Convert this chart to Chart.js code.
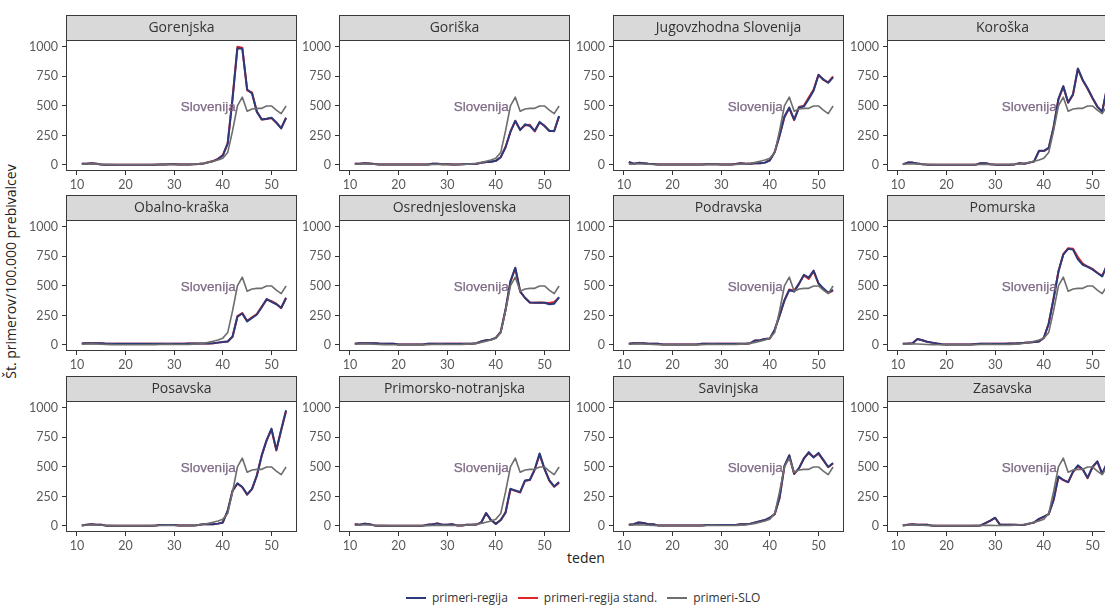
<!DOCTYPE html>
<html>
<head>
<meta charset="utf-8">
<script src="https://cdn.jsdelivr.net/npm/chart.js@4.4.1/dist/chart.umd.min.js"></script>
<style>
  html, body { margin: 0; padding: 0; background: #fff; overflow: hidden; }
  #wrap { position: relative; width: 1105px; height: 606px; overflow: hidden; background: #fff; }
  #wrap canvas { position: absolute; }
  .ytitle { position: absolute; left: -140px; top: 262px; width: 300px; text-align: center;
            font: 14px 'Open Sans', sans-serif; color: #222; transform: rotate(-90deg); white-space: nowrap; }
  .xtitle { position: absolute; left: 541px; top: 548px; width: 90px; text-align: center;
            font: 14px 'Open Sans', sans-serif; color: #222; }
  .legend { position: absolute; left: 406px; top: 589px; display: flex; align-items: center;
            font: 12px 'Open Sans', sans-serif; color: #333; white-space: nowrap; }
  .legend .item { display: flex; align-items: center; margin-right: 10px; }
  .legend .key { display: inline-block; width: 20px; height: 2px; margin-right: 6px; }
</style>
</head>
<body>
<div id="wrap">
  <div class="ytitle">Št. primerov/100.000 prebivalcev</div>
  <div class="xtitle">teden</div>
  <div class="legend" id="legend"></div>
</div>
<script>
// Weeks on the x axis
const weeks = [11,12,13,14,15,16,17,18,19,20,21,22,23,24,25,26,27,28,29,30,31,32,33,34,35,36,37,38,39,40,41,42,43,44,45,46,47,48,49,50,51,52,53];

const regions = ['Gorenjska','Goriška','Jugovzhodna Slovenija','Koroška',
                 'Obalno-kraška','Osrednjeslovenska','Podravska','Pomurska',
                 'Posavska','Primorsko-notranjska','Savinjska','Zasavska'];

// Whole-country weekly cases per 100,000
const slo = [6,8,10,8,6,4,3,2,2,2,2,2,2,2,2,3,4,5,5,4,4,4,5,7,9,14,22,32,42,58,105,290,500,575,455,475,480,480,500,500,465,435,500];

// Regional weekly cases per 100,000 (raw and standardised)
const gorenjska      = [10,10,15,10,5,3,3,3,3,3,3,3,3,3,3,3,5,5,6,6,4,4,5,6,8,12,22,32,50,80,180,560,990,985,640,605,450,385,392,400,360,310,400];
const gorenjskaStand = [10,11,15,10,5,3,3,3,3,3,3,3,3,3,3,3,5,5,6,6,4,4,5,6,8,12,23,33,52,84,186,570,1002,994,632,614,452,386,390,398,358,312,398];

const goriska      = [10,10,15,12,8,5,5,5,5,5,5,5,5,5,5,5,10,10,6,6,5,5,6,8,8,10,18,25,28,35,65,150,280,375,295,345,330,290,365,330,288,288,415];
const goriskaStand = [10,10,15,12,8,5,5,5,5,5,5,5,5,5,5,5,10,10,6,6,5,5,6,8,8,10,18,25,28,35,66,152,282,372,300,335,340,284,360,334,290,286,412];

const jugovzhodna      = [25,10,18,15,10,8,5,5,5,5,5,5,5,5,5,5,6,6,6,5,5,5,8,15,10,10,15,15,20,40,110,250,410,487,385,487,495,560,630,762,725,697,742];
const jugovzhodnaStand = [24,10,18,15,10,8,5,5,5,5,5,5,5,5,5,5,6,6,6,5,5,5,8,15,10,10,15,15,20,40,108,248,405,480,380,492,502,572,640,765,722,700,750];

const koroska      = [5,20,20,12,6,3,3,3,3,3,3,3,3,3,3,3,15,15,6,3,3,3,3,5,15,10,20,30,120,120,145,320,560,668,530,600,818,720,650,570,495,450,660];
const koroskaStand = [5,20,20,12,6,3,3,3,3,3,3,3,3,3,3,3,15,15,6,3,3,3,3,5,15,10,20,30,118,118,143,315,555,662,528,596,812,716,646,566,494,452,655];

const obalno      = [12,15,15,15,15,10,10,10,10,10,10,10,10,10,10,10,10,10,10,10,10,10,12,12,12,12,12,15,20,25,30,70,240,267,200,230,258,320,390,365,345,315,400];
const obalnoStand = [12,15,15,15,15,10,10,10,10,10,10,10,10,10,10,10,10,10,10,10,10,10,12,12,12,12,12,15,20,25,30,72,244,270,204,234,262,325,382,372,350,312,396];

const osrednje      = [10,15,15,15,15,12,10,10,10,5,5,5,5,5,5,10,10,10,10,10,10,10,10,10,10,15,30,40,45,60,110,300,540,655,455,400,360,358,358,358,345,350,405];
const osrednjeStand = [10,15,15,15,15,12,10,10,10,5,5,5,5,5,5,10,10,10,10,10,10,10,10,10,10,15,30,40,45,60,108,296,535,650,452,398,360,358,360,358,356,365,400];

const podravska      = [10,15,15,15,10,10,10,5,5,5,5,5,5,5,5,10,10,10,10,10,10,10,10,10,10,15,38,40,50,55,130,250,380,466,452,520,594,571,631,523,480,443,466];
const podravskaStand = [10,15,15,15,10,10,10,5,5,5,5,5,5,5,5,10,10,10,10,10,10,10,10,10,10,15,38,40,50,55,128,248,376,470,460,518,590,560,626,520,474,440,460];

const pomurska      = [10,12,15,50,40,28,20,12,6,5,5,5,5,5,5,8,10,10,10,10,10,10,12,12,15,18,22,25,30,60,180,390,620,765,815,808,725,680,662,640,610,580,680];
const pomurskaStand = [10,12,15,50,40,28,20,12,6,5,5,5,5,5,5,8,10,10,10,10,10,10,12,12,15,18,22,25,30,60,182,395,625,770,820,815,745,690,665,645,612,585,675];

const posavska      = [5,10,15,10,10,3,3,3,3,3,3,3,3,3,3,3,8,8,8,8,5,5,5,5,8,15,15,15,20,30,130,300,362,330,268,315,430,600,727,825,645,815,980];
const posavskaStand = [5,10,15,10,10,3,3,3,3,3,3,3,3,3,3,3,8,8,8,8,5,5,5,5,8,15,15,15,20,30,128,296,358,328,266,312,426,596,722,818,640,812,972];

const primorsko      = [15,10,20,15,5,3,3,3,3,3,3,3,3,3,3,10,15,22,10,10,15,5,5,10,10,12,30,110,50,18,50,115,315,300,287,386,392,480,615,486,386,335,372];
const primorskoStand = [15,10,20,15,5,3,3,3,3,3,3,3,3,3,3,10,15,22,10,10,15,5,5,10,10,12,30,108,50,18,50,112,310,298,284,382,390,476,605,482,384,332,365];

const savinjska      = [10,15,30,25,15,15,5,5,5,5,5,5,5,5,5,5,8,8,8,8,8,8,8,15,15,20,30,40,50,70,100,240,510,600,443,490,570,626,580,619,560,500,534];
const savinjskaStand = [10,15,30,25,15,15,5,5,5,5,5,5,5,5,5,5,8,8,8,8,8,8,8,15,15,20,30,40,50,70,100,238,505,596,440,488,575,615,585,612,556,498,530];

const zasavska      = [5,10,15,10,10,10,3,3,3,3,3,3,3,3,3,3,5,25,45,70,10,10,10,10,8,10,20,30,60,80,100,220,420,390,372,460,514,480,409,500,548,443,534];
const zasavskaStand = [5,10,15,10,10,10,3,3,3,3,3,3,3,3,3,3,5,25,45,68,10,10,10,10,8,10,20,30,58,78,100,218,415,388,370,456,505,478,405,496,545,440,530];

const regionRaw   = [gorenjska, goriska, jugovzhodna, koroska, obalno, osrednje, podravska, pomurska, posavska, primorsko, savinjska, zasavska];
const regionStand = [gorenjskaStand, goriskaStand, jugovzhodnaStand, koroskaStand, obalnoStand, osrednjeStand, podravskaStand, pomurskaStand, posavskaStand, primorskoStand, savinjskaStand, zasavskaStand];

const xTicks = [10, 20, 30, 40, 50];
const yTicks = [0, 250, 500, 750, 1000];

const seriesNames = ['primeri-regija', 'primeri-regija stand.', 'primeri-SLO'];
const seriesColors = ['#2b3b7a', '#e0242a', '#6e6e6e'];

const sloLabel = 'Slovenija';

// ---- layout of the facet grid ----
const COL_LEFT = [66, 339, 613, 887];
const ROW_TOP = [15, 195, 376];
const STRIP = 25, PW = 231, PH = 131, YAX = 50, XAX = 24, PADR = 3;
const X_MIN = 7.75, X_MAX = 55.25, Y_MIN = -51, Y_MAX = 1059;
const SLO_LABEL_X = 37, SLO_LABEL_Y = 490;

const toPoints = vals => weeks.map((w, i) => ({ x: w, y: vals[i] }));

// Strip header, panel frame and the country label
const panelPlugin = {
  id: 'panel',
  afterDatasetsDraw(chart, args, opts) {
    const { ctx, scales } = chart;
    const px = scales.x.getPixelForValue(SLO_LABEL_X);
    const py = scales.y.getPixelForValue(SLO_LABEL_Y);
    ctx.save();
    ctx.font = '13.5px "Liberation Sans", Arial, sans-serif';
    ctx.textAlign = 'center';
    ctx.textBaseline = 'middle';
    ctx.fillStyle = '#7f6a86';
    ctx.strokeStyle = '#7f6a86';
    ctx.lineWidth = 0.25;
    ctx.fillText(sloLabel, px, py);
    ctx.strokeText(sloLabel, px, py);
    ctx.restore();
  },
  afterDraw(chart, args, opts) {
    const { ctx, chartArea: a } = chart;
    ctx.save();
    ctx.fillStyle = '#d9d9d9';
    ctx.fillRect(a.left, a.top - STRIP, a.right - a.left, STRIP);
    ctx.strokeStyle = '#3a3a3a';
    ctx.lineWidth = 1;
    ctx.strokeRect(a.left + 0.5, a.top - STRIP + 0.5, a.right - a.left - 1, STRIP);
    ctx.strokeRect(a.left + 0.5, a.top + 0.5, a.right - a.left - 1, a.bottom - a.top - 1);
    ctx.fillStyle = '#333';
    ctx.font = '14px "Open Sans", sans-serif';
    ctx.textAlign = 'center';
    ctx.textBaseline = 'middle';
    ctx.fillText(opts.title, (a.left + a.right) / 2, a.top - STRIP / 2 + 0.5);
    ctx.restore();
  }
};

const wrap = document.getElementById('wrap');

regions.forEach((name, i) => {
  const col = i % 4, row = Math.floor(i / 4);
  const cv = document.createElement('canvas');
  cv.width = YAX + PW + PADR;
  cv.height = STRIP + PH + XAX;
  cv.style.left = (COL_LEFT[col] - YAX) + 'px';
  cv.style.top = ROW_TOP[row] + 'px';
  wrap.appendChild(cv);

  const tickFont = { family: "'Lato', sans-serif", size: 12.5 };
  new Chart(cv, {
    type: 'line',
    data: {
      datasets: [
        { label: seriesNames[2], data: toPoints(slo), borderColor: seriesColors[2], borderWidth: 1.6 },
        { label: seriesNames[0], data: toPoints(regionRaw[i]), borderColor: seriesColors[0], borderWidth: 2 },
        { label: seriesNames[1], data: toPoints(regionStand[i]), borderColor: seriesColors[1], borderWidth: 2 }
      ]
    },
    options: {
      responsive: false,
      animation: false,
      devicePixelRatio: 1,
      layout: { padding: { top: STRIP, right: PADR, left: 0, bottom: 0 } },
      elements: { point: { radius: 0 }, line: { tension: 0, borderJoinStyle: 'round' } },
      plugins: { legend: { display: false }, tooltip: { enabled: false }, panel: { title: name } },
      scales: {
        x: {
          type: 'linear', min: X_MIN, max: X_MAX,
          afterBuildTicks: s => { s.ticks = xTicks.map(v => ({ value: v })); },
          afterFit: s => { s.height = XAX; },
          ticks: { font: tickFont, color: '#5a5a5a', padding: 2, maxRotation: 0, autoSkip: false,
                   callback: v => String(v) },
          grid: { drawOnChartArea: false, tickLength: 4, color: '#333' },
          border: { display: false }
        },
        y: {
          type: 'linear', min: Y_MIN, max: Y_MAX,
          afterBuildTicks: s => { s.ticks = yTicks.map(v => ({ value: v })); },
          afterFit: s => { s.width = YAX; },
          ticks: { font: tickFont, color: '#5a5a5a', padding: 4, callback: v => String(v) },
          grid: { drawOnChartArea: false, tickLength: 4, color: '#333' },
          border: { display: false }
        }
      }
    },
    plugins: [panelPlugin]
  });
});

// Legend
const legend = document.getElementById('legend');
seriesNames.forEach((n, k) => {
  const item = document.createElement('span');
  item.className = 'item';
  const key = document.createElement('span');
  key.className = 'key';
  key.style.background = seriesColors[k];
  item.appendChild(key);
  item.appendChild(document.createTextNode(n));
  legend.appendChild(item);
});
</script>
</body>
</html>
